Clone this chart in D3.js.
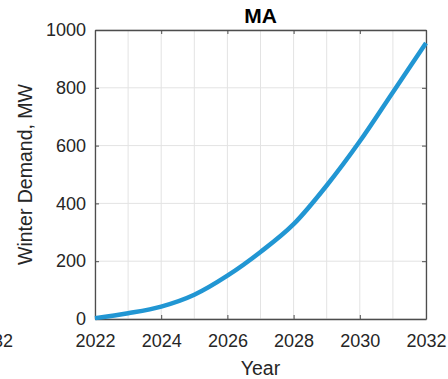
<!DOCTYPE html>
<html>
<head>
<meta charset="utf-8">
<script src="https://cdn.jsdelivr.net/npm/d3@7"></script>
<style>
  html, body { margin: 0; padding: 0; background: #fff; }
  svg { display: block; font-family: "Liberation Sans", Arial, sans-serif; }
</style>
</head>
<body>
<svg id="chart" width="448" height="379"></svg>
<script>
// Winter demand projection for MA, 2022-2032
const years = [2022, 2023, 2024, 2025, 2026, 2027, 2028, 2029, 2030, 2031, 2032];
const demandMW = [3, 20, 43, 84, 150, 232, 328, 462, 615, 785, 955];
const xTicks = [2022, 2024, 2026, 2028, 2030, 2032];
const yTicks = [0, 200, 400, 600, 800, 1000];
const titleText = "MA";
const xLabel = "Year";
const yLabel = "Winter Demand, MW";

const svg = d3.select("#chart");
const m = { left: 95, right: 22, top: 30, bottom: 60 };
const W = 448, H = 379;
const x = d3.scaleLinear().domain([2022, 2032]).range([m.left, W - m.right]);
const y = d3.scaleLinear().domain([0, 1000]).range([H - m.bottom, m.top]);

const axisColor = "#4d4d4d";
const textColor = "#262626";
const tickFont = "18px";
const labelFont = "19.5px";

// grid lines: every year vertically, every 200 MW horizontally
const g = svg.append("g");
g.selectAll(".vg").data(d3.range(2022, 2033)).join("line")
  .attr("x1", d => x(d)).attr("x2", d => x(d))
  .attr("y1", y(0)).attr("y2", y(1000))
  .attr("stroke", "#e3e3e3").attr("stroke-width", 1);
g.selectAll(".hg").data(yTicks).join("line")
  .attr("x1", x(2022)).attr("x2", x(2032))
  .attr("y1", d => y(d)).attr("y2", d => y(d))
  .attr("stroke", "#e3e3e3").attr("stroke-width", 1);

// axes with inward ticks, boxed on all four sides
function styleAxis(sel) {
  sel.selectAll(".domain").attr("stroke", axisColor).attr("stroke-width", 1.3);
  sel.selectAll(".tick line").attr("stroke", axisColor);
  sel.selectAll(".tick text").attr("fill", textColor).style("font-size", tickFont);
}
const xAxis = svg.append("g").attr("transform", `translate(0,${y(0)})`)
  .call(d3.axisBottom(x).tickValues(xTicks).tickFormat(d3.format("d"))
    .tickSizeInner(-4).tickSizeOuter(0).tickPadding(15));
styleAxis(xAxis);
const yAxis = svg.append("g").attr("transform", `translate(${x(2022)},0)`)
  .call(d3.axisLeft(y).tickValues(yTicks).tickFormat(d3.format("d"))
    .tickSizeInner(-4).tickSizeOuter(0).tickPadding(9));
styleAxis(yAxis);
const xTop = svg.append("g").attr("transform", `translate(0,${y(1000)})`)
  .call(d3.axisTop(x).tickValues(xTicks).tickSizeInner(-4).tickSizeOuter(0).tickFormat(""));
styleAxis(xTop);
const yRight = svg.append("g").attr("transform", `translate(${x(2032)},0)`)
  .call(d3.axisRight(y).tickValues(yTicks).tickSizeInner(-4).tickSizeOuter(0).tickFormat(""));
styleAxis(yRight);

// demand curve
svg.append("path")
  .datum(years.map((yr, i) => [yr, demandMW[i]]))
  .attr("fill", "none")
  .attr("stroke", "#2196d3")
  .attr("stroke-width", 4.5)
  .attr("stroke-linejoin", "round")
  .attr("d", d3.line().x(d => x(d[0])).y(d => y(d[1])).curve(d3.curveMonotoneX));

// title and labels
const cx = (x(2022) + x(2032)) / 2;
svg.append("text").attr("x", cx).attr("y", 23)
  .attr("text-anchor", "middle").attr("font-weight", "bold")
  .style("font-size", "21px").attr("fill", "#000").text(titleText);
svg.append("text").attr("x", cx).attr("y", 375)
  .attr("text-anchor", "middle").style("font-size", labelFont)
  .attr("fill", textColor).text(xLabel);
svg.append("text")
  .attr("transform", `translate(32,${(y(0) + y(1000)) / 2}) rotate(-90)`)
  .attr("text-anchor", "middle").style("font-size", labelFont)
  .attr("fill", textColor).text(yLabel);

// tail of the neighbouring panel's last year label
svg.append("text").attr("x", 13).attr("y", 347)
  .attr("text-anchor", "end").style("font-size", tickFont)
  .attr("fill", textColor).text("2032");
</script>
</body>
</html>
